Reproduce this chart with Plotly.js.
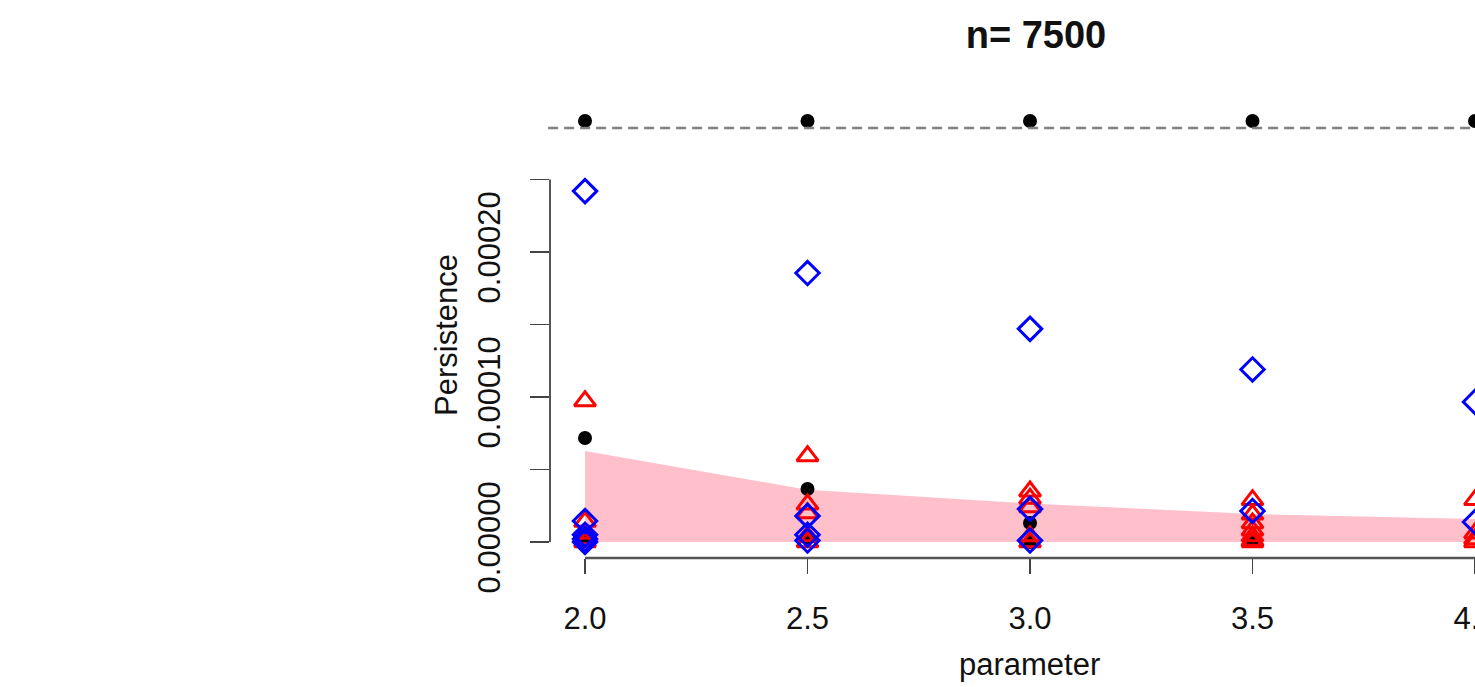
<!DOCTYPE html>
<html>
<head>
<meta charset="utf-8">
<script src="https://cdn.plot.ly/plotly-3.0.1.min.js"></script>
<style>html,body{margin:0;padding:0;overflow:hidden;background:#fff}</style>
</head>
<body>
<div id="chart" style="width:1475px;height:687px"></div>
<script>
// ---- data ----
const params = [2.0, 2.5, 3.0, 3.5, 4.0];
const paramLabels = ["2.0", "2.5", "3.0", "3.5", "4.0"];
const bandUpper = [6.28e-5, 3.60e-5, 2.66e-5, 1.93e-5, 1.59e-5];
const infValue = 2.903e-4;   // level where infinite-persistence points are drawn
const infLine = 2.855e-4;    // dashed "Inf" reference line

const dim0X = [2.0, 2.0, 2.5, 2.5, 3.0, 3.0, 3.5];
const dim0Y = [7.17e-5, 0.2e-5, 3.66e-5, 0.3e-5, 1.31e-5, 0.0, 0.1e-5];

const dim1X = [2.0, 2.0, 2.0, 2.0, 2.0,
               2.5, 2.5, 2.5, 2.5, 2.5,
               3.0, 3.0, 3.0, 3.0, 3.0,
               3.5, 3.5, 3.5, 3.5, 3.5, 3.5, 3.5,
               4.0, 4.0, 4.0, 4.0];
const dim1Y = [9.72e-5, 1.4e-5, 0.6e-5, 0.2e-5, 0.0,
               5.93e-5, 2.6e-5, 2.0e-5, 0.4e-5, 0.0,
               3.5e-5, 3.0e-5, 2.4e-5, 0.4e-5, 0.0,
               2.9e-5, 1.9e-5, 1.3e-5, 0.8e-5, 0.4e-5, 0.1e-5, 0.0,
               2.9e-5, 0.6e-5, 0.2e-5, 0.0];

const dim2X = [2.0, 2.0, 2.0, 2.0, 2.0,
               2.5, 2.5, 2.5, 2.5,
               3.0, 3.0, 3.0,
               3.5, 3.5,
               4.0, 4.0];
const dim2Y = [2.42e-4, 1.45e-5, 0.5e-5, 0.2e-5, 0.0,
               1.855e-4, 1.8e-5, 0.5e-5, 0.1e-5,
               1.47e-4, 2.28e-5, 0.1e-5,
               1.19e-4, 2.14e-5,
               9.66e-5, 1.38e-5];

const yTickVals = [0, 5e-5, 1e-4, 1.5e-4, 2e-4, 2.5e-4];
const yTickText = ["0.00000", "", "0.00010", "", "0.00020", ""];

// ---- chart ----
const FONT = "Liberation Sans, Arial, Helvetica, sans-serif";
const traces = [
  {x: params, y: bandUpper, mode: "lines", fill: "tozeroy", fillcolor: "#FFC0CB",
   line: {width: 0, color: "#FFC0CB"}, hoverinfo: "skip", showlegend: false},
  {x: params, y: params.map(() => infValue), mode: "markers", showlegend: false,
   marker: {symbol: "circle", size: 14, color: "#000000"}},
  {x: dim0X, y: dim0Y, mode: "markers", showlegend: false,
   marker: {symbol: "circle", size: 14, color: "#000000"}},
  {x: dim1X, y: dim1Y, mode: "markers", showlegend: false,
   marker: {symbol: "triangle-up-open", size: 18.5, color: "#FF0000", line: {width: 3, color: "#FF0000"}}},
  {x: dim2X, y: dim2Y, mode: "markers", showlegend: false,
   marker: {symbol: "diamond-open", size: 18, color: "#0000FF", line: {width: 3, color: "#0000FF"}}}
];

const layout = {
  width: 1475, height: 687,
  margin: {l: 550, r: 0, t: 100, b: 129},
  paper_bgcolor: "#ffffff", plot_bgcolor: "#ffffff",
  font: {family: FONT, size: 31, color: "#111111"},
  showlegend: false,
  title: {text: "n= 7500", font: {family: FONT, size: 38, weight: 700, color: "#111111"},
          xref: "paper", x: 0.5254, xanchor: "center", yref: "container", y: 0.949, yanchor: "middle"},
  xaxis: {range: [1.9213, 4.0], showgrid: false, zeroline: false, showline: false,
          tickmode: "array", tickvals: params, ticktext: paramLabels,
          ticks: "outside", ticklen: 15, tickwidth: 1.5, tickcolor: "#444444",
          tickfont: {family: FONT, size: 31, color: "#111111"}, ticklabelstandoff: 18,
          ticklabeloverflow: "allow"},
  yaxis: {range: [-1.1034e-5, 3.0483e-4], showgrid: false, zeroline: false, showline: false,
          tickmode: "array", tickvals: yTickVals, ticktext: yTickText, tickangle: -90,
          ticks: "outside", ticklen: 19, tickwidth: 1.5, tickcolor: "#444444",
          tickfont: {family: FONT, size: 31, color: "#111111"}, ticklabelstandoff: 18},
  shapes: [
    {type: "line", xref: "paper", yref: "y", x0: 0, x1: 0, y0: yTickVals[0], y1: yTickVals[yTickVals.length - 1],
     line: {color: "#555555", width: 2}},
    {type: "line", xref: "x", yref: "paper", x0: params[0], x1: params[params.length - 1] + 0.5, y0: 0, y1: 0,
     line: {color: "#555555", width: 2.5}},
    {type: "line", xref: "paper", yref: "y", x0: -0.002, x1: 1, y0: infLine, y1: infLine,
     line: {color: "#808080", width: 2.5, dash: "10px,6px"}}
  ],
  annotations: [
    {text: "Persistence", xref: "paper", yref: "paper", x: -0.1114, y: 0.4869, textangle: -90,
     xanchor: "center", yanchor: "middle", showarrow: false, font: {family: FONT, size: 31, color: "#111111"}},
    {text: "parameter", xref: "paper", yref: "paper", x: 0.5189, y: -0.2336,
     xanchor: "center", yanchor: "middle", showarrow: false, font: {family: FONT, size: 31, color: "#111111"}}
  ]
};

Plotly.newPlot("chart", traces, layout, {displayModeBar: false, staticPlot: true});
</script>
</body>
</html>
